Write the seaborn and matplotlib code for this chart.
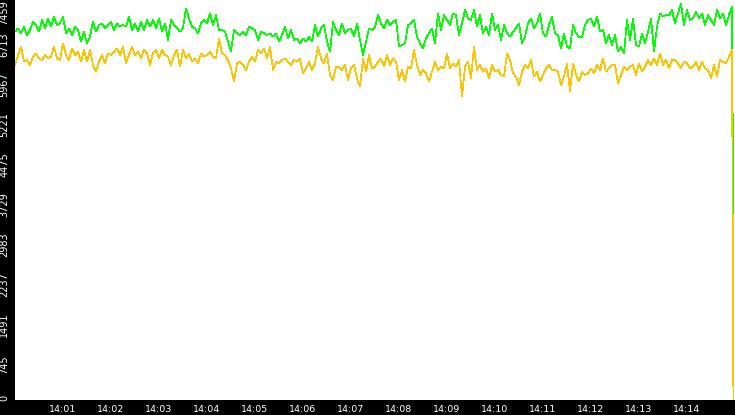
import numpy as np
import pandas as pd
import seaborn as sns
import matplotlib.pyplot as plt
import matplotlib.dates as mdates
import matplotlib.transforms as mtransforms

# sampled readings, one every 3.75 s from 14:00:00, last value = final drop
green = [
    6868, 6931, 6837, 6962, 6806, 6900, 7055, 6993, 6868, 7086,
    6931, 7117, 6962, 7148, 6993, 7024, 7148, 6837, 6931, 6806,
    6962, 6900, 6682, 6868, 6651, 6775, 7055, 6868, 6993, 7024,
    6931, 6993, 7055, 6900, 7024, 6962, 6993, 6962, 7148, 6900,
    7024, 6868, 7055, 6900, 7086, 6962, 7086, 6931, 7117, 6868,
    7024, 6713, 7086, 6993, 6931, 6868, 6931, 7304, 7117, 6962,
    6931, 6837, 7024, 7086, 7024, 7210, 6993, 7179, 6900, 6900,
    6868, 6682, 6495, 6900, 6837, 6806, 6868, 6806, 6962, 6931,
    6900, 6713, 6868, 6837, 6806, 6837, 6775, 6837, 6682, 6806,
    6962, 6744, 6900, 6713, 6744, 6651, 6744, 6682, 6775, 6682,
    6993, 6775, 6931, 6993, 6682, 6495, 7055, 6900, 6806, 7024,
    6837, 6900, 6931, 6775, 7024, 6713, 6433, 6682, 6931, 6900,
    6962, 7179, 7024, 6931, 7086, 6993, 7055, 7086, 6589, 6620,
    6651, 6993, 7024, 7086, 6775, 6651, 6558, 6744, 6837, 6931,
    6651, 7210, 6900, 7179, 7086, 6993, 7210, 7179, 6806, 7024,
    7272, 7117, 7086, 7272, 6962, 7179, 6837, 6962, 6806, 7210,
    6900, 6993, 6713, 6993, 6837, 6775, 6868, 6931, 7024, 6651,
    6775, 7024, 7117, 6931, 7024, 7210, 6837, 6775, 6993, 7148,
    6837, 6806, 6558, 6837, 6589, 6558, 6993, 6837, 6775, 6775,
    6993, 7086, 7117, 6962, 7148, 6868, 6900, 6651, 6806, 6620,
    6806, 6495, 6589, 6464, 7086, 6713, 7117, 6620, 6589, 6837,
    6651, 6868, 7117, 6495, 6962, 7210, 7148, 7179, 7179, 7272,
    7024, 7210, 7397, 6993, 7272, 7086, 7117, 7241, 7117, 7210,
    6993, 7179, 7086, 6993, 7272, 7117, 7210, 6993, 7179, 7335,
    3100,
]

orange = [
    6247, 6433, 6589, 6309, 6340, 6247, 6402, 6464, 6371, 6340,
    6433, 6371, 6402, 6589, 6371, 6340, 6651, 6433, 6340, 6558,
    6433, 6495, 6309, 6527, 6309, 6527, 6247, 6122, 6309, 6433,
    6278, 6464, 6433, 6495, 6558, 6433, 6589, 6278, 6433, 6589,
    6433, 6495, 6371, 6527, 6464, 6247, 6464, 6527, 6371, 6527,
    6433, 6402, 6247, 6433, 6527, 6216, 6527, 6371, 6464, 6309,
    6371, 6278, 6464, 6402, 6433, 6495, 6402, 6371, 6744, 6464,
    6433, 6340, 6185, 5936, 6278, 6309, 6247, 6154, 6309, 6402,
    6309, 6527, 6464, 6558, 6371, 6589, 6154, 6309, 6278, 6340,
    6371, 6309, 6247, 6340, 6309, 6371, 6091, 6185, 6309, 6154,
    6278, 6589, 6371, 6278, 6464, 6060, 5967, 6216, 6216, 6154,
    6247, 5967, 6185, 6247, 5998, 5843, 6371, 6122, 6433, 6185,
    6216, 6309, 6371, 6216, 6433, 6247, 6371, 6309, 5967, 6154,
    5936, 6216, 6185, 6527, 6247, 6060, 6154, 6091, 5936, 6122,
    6309, 6154, 6216, 6185, 6464, 6185, 6278, 6216, 6340, 5656,
    6216, 6309, 5998, 6589, 6154, 6247, 6122, 6185, 5998, 6247,
    6122, 6154, 6060, 6029, 6464, 6340, 6091, 6029, 5874, 6122,
    6247, 6185, 6340, 6029, 6122, 5936, 6060, 6185, 6247, 6154,
    6154, 6122, 5874, 6029, 6278, 5749, 6278, 6060, 5936, 6122,
    6060, 6091, 6185, 6091, 6247, 6154, 6371, 6122, 6185, 6247,
    6247, 5905, 6060, 6216, 6154, 6216, 6247, 6060, 6278, 6122,
    6216, 6340, 6247, 6371, 6247, 6464, 6247, 6340, 6185, 6340,
    6340, 6278, 6185, 6309, 6278, 6185, 6216, 6309, 6154, 6309,
    6185, 6154, 5998, 6247, 6029, 6340, 6309, 6278, 6402, 6527,
    0,
]

ymax = 7459
ytick_labels = ['0', '745', '1491', '2237', '2983', '3729',
                '4475', '5221', '5967', '6713', '7459']

start = pd.Timestamp('2024-01-01 14:00:00')
secs = np.append(np.arange(len(green) - 1) * 3.75, 898.0)
times = start + pd.to_timedelta(secs, unit='s')

df = pd.concat([
    pd.DataFrame({'time': times, 'value': green, 'series': 'green'}),
    pd.DataFrame({'time': times, 'value': orange, 'series': 'orange'}),
])

sns.set_style('white')
plt.rcParams['font.family'] = ['DejaVu Sans']

fig = plt.figure(figsize=(7.35, 4.15), dpi=100, facecolor='black')
ax = fig.add_axes([15 / 735, 15 / 415, 720 / 735, 400 / 415])
ax.set_facecolor('white')

sns.lineplot(data=df, x='time', y='value', hue='series',
             palette={'green': '#00ff00', 'orange': '#ffc400'},
             estimator=None, legend=False, linewidth=0.5,
             antialiased=False, solid_joinstyle='miter',
             solid_capstyle='butt', ax=ax)

ax.set_xlim(start, start + pd.Timedelta(minutes=15))
ax.set_ylim(0, ymax)
ax.set_xlabel('')
ax.set_ylabel('')
for s in ax.spines.values():
    s.set_visible(False)

ax.xaxis.set_major_locator(mdates.MinuteLocator(byminute=range(1, 15)))
ax.xaxis.set_major_formatter(mdates.DateFormatter('%H:%M'))
ax.set_yticks(np.linspace(0, ymax, 11))
ax.set_yticklabels(ytick_labels, rotation=90, va='center')

ax.tick_params(axis='both', colors='white', length=3.6, width=0.75,
               direction='out', labelsize=7)
ax.tick_params(axis='x', pad=0.3, labelsize=6.8)
ax.tick_params(axis='y', pad=0.5)

# nudge rotated y labels a little below their ticks, keep ends inside
shifts = [2] + [-4.5] * 9 + [-13]
for lab, dy in zip(ax.get_yticklabels(), shifts):
    off = mtransforms.ScaledTranslation(0, dy / 100, fig.dpi_scale_trans)
    lab.set_transform(lab.get_transform() + off)

fig.savefig('out.png', dpi=100, facecolor='black')
